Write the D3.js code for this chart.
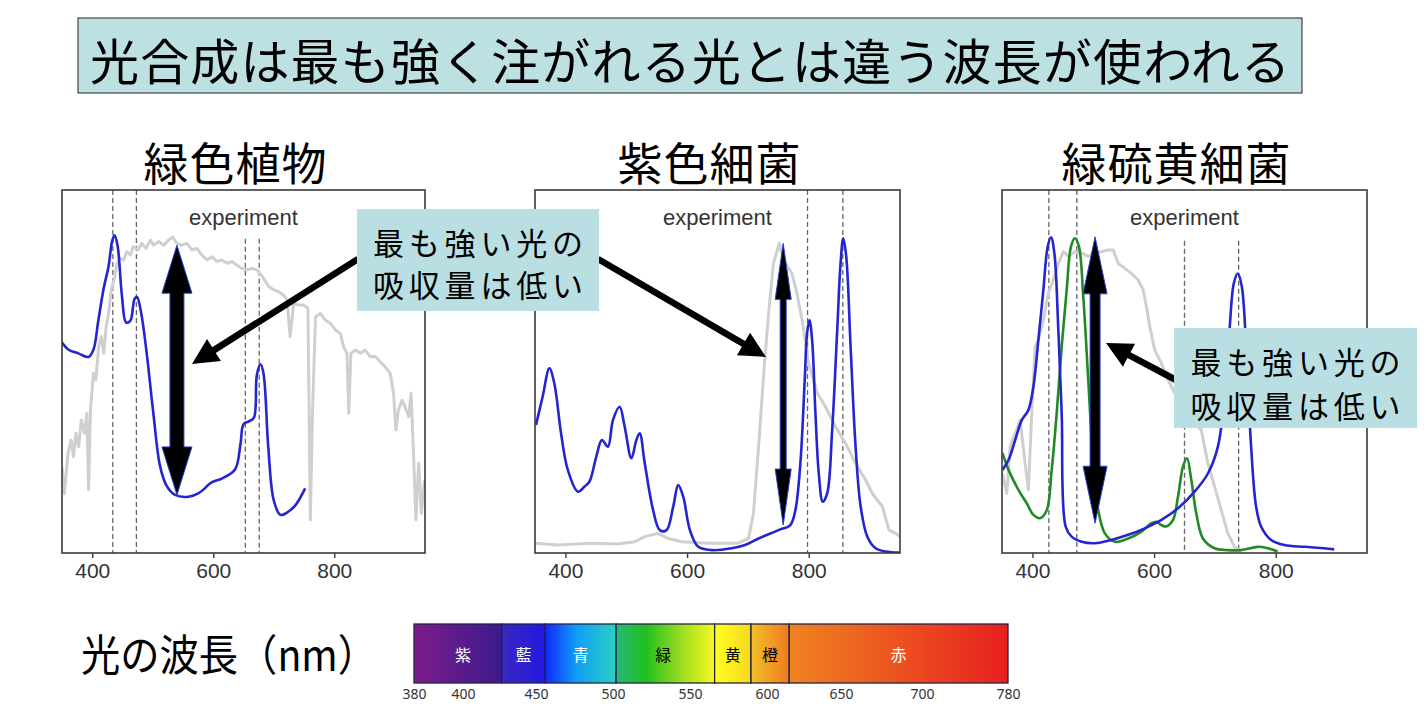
<!DOCTYPE html>
<html><head><meta charset="utf-8">
<script src="https://cdn.jsdelivr.net/npm/d3@7"></script>
<style>body{margin:0;background:#fff;} svg{display:block;}</style>
</head><body>
<script>
// ---------------- DATA ----------------
const titleText = "光合成は最も強く注がれる光とは違う波長が使われる";
const panelTitles = ["緑色植物", "紫色細菌", "緑硫黄細菌"];
const axisTicks = [400, 600, 800];
const panelNote = "experiment";
const calloutLines = ["最も強い光の", "吸収量は低い"];
const wavelengthLabel = "光の波長（nm）";

// Green plant: light spectrum (gray) and absorption (blue) [nm, relative]
const plantLight = [[350,0.238],[354,0.164],[360,0.275],[365,0.311],[369,0.265],[373,0.330],[377.5,0.293],[382,0.366],[387,0.330],[391,0.385],[394,0.174],[397,0.394],[402,0.495],[406,0.477],[410.5,0.568],[415,0.596],[419,0.550],[423,0.624],[427,0.660],[431.5,0.725],[437,0.761],[441,0.798],[446,0.812],[452,0.807],[457,0.830],[463,0.821],[468,0.844],[475.5,0.835],[482,0.853],[489,0.839],[496,0.862],[501,0.848],[510,0.858],[518,0.848],[526,0.862],[533,0.870],[540,0.853],[548,0.848],[556.5,0.853],[565,0.835],[573,0.839],[581,0.821],[590,0.807],[598,0.816],[606,0.803],[614,0.807],[623,0.798],[631,0.803],[639,0.793],[647.5,0.784],[656,0.780],[664,0.784],[672,0.780],[679,0.766],[685,0.752],[691.5,0.734],[700,0.725],[708,0.720],[716,0.711],[722,0.697],[727,0.596],[733,0.688],[741,0.683],[749,0.683],[756.5,0.674],[760.5,0.091],[764,0.385],[769,0.651],[777,0.660],[785,0.642],[793.5,0.633],[802,0.614],[810,0.605],[815.5,0.568],[821,0.550],[824,0.385],[827.5,0.550],[835,0.559],[843,0.550],[851,0.559],[859.5,0.541],[868,0.541],[876,0.527],[884,0.513],[892.5,0.495],[898,0.440],[902,0.339],[906,0.394],[912,0.421],[917,0.403],[923,0.376],[927,0.440],[931,0.275],[935,0.091],[939.5,0.247],[944,0.109],[949,0.201]];
const plantAbsorb = [[350,0.58],[361,0.56],[377,0.55],[394,0.54],[402,0.56],[410,0.64],[419,0.73],[427,0.79],[433,0.86],[437,0.875],[442,0.845],[449,0.71],[456,0.635],[463,0.64],[470,0.70],[474,0.705],[481,0.66],[490,0.55],[501,0.385],[512,0.24],[523,0.185],[537,0.16],[559,0.155],[576,0.165],[598,0.195],[614,0.205],[636,0.23],[645,0.30],[650,0.355],[658,0.362],[667,0.372],[672,0.49],[678,0.52],[683,0.495],[691,0.29],[700,0.145],[711,0.105],[725,0.115],[736,0.132],[752,0.178]];

// Purple bacteria
const purpleLight = [[351.6,0.027],[387,0.022],[442,0.027],[486,0.025],[514,0.031],[530,0.045],[552,0.054],[569,0.040],[591,0.031],[635,0.027],[684,0.027],[701,0.040],[709,0.109],[717.5,0.293],[726,0.495],[734,0.660],[742,0.798],[751.6,0.853],[758.7,0.807],[767,0.784],[772.5,0.770],[780.7,0.715],[789,0.642],[800,0.522],[814,0.440],[827.5,0.403],[844,0.348],[860.5,0.302],[877,0.247],[893.5,0.201],[904.5,0.164],[921,0.128],[932,0.063],[943,0.054],[950,0.045]];
const purpleAbsorb = [[351.6,0.353],[362.6,0.431],[373.6,0.509],[381.8,0.467],[392.8,0.330],[403.9,0.229],[420.4,0.169],[431.4,0.183],[439.6,0.197],[450.6,0.265],[460,0.311],[469.9,0.293],[478.1,0.366],[489.1,0.403],[497.4,0.348],[508.4,0.261],[516.6,0.311],[522.1,0.330],[530.4,0.247],[544.2,0.118],[555.2,0.063],[566.2,0.063],[577.2,0.128],[585.4,0.187],[593.7,0.155],[604.7,0.063],[618.4,0.017],[640.4,0.008],[673.4,0.013],[695.4,0.022],[717.5,0.040],[750.5,0.063],[769.7,0.077],[778,0.118],[786.2,0.247],[793.4,0.477],[797.2,0.605],[801.1,0.642],[805.5,0.587],[811,0.385],[816.5,0.219],[823.1,0.141],[830.3,0.164],[838.5,0.339],[846.8,0.614],[852.3,0.798],[856.7,0.867],[861.6,0.817],[868.8,0.568],[877,0.293],[885.3,0.128],[896.3,0.045],[910,0.013],[926.5,0.004],[948.5,0.001]];

// Green sulfur bacteria
const gsbLight = [[350.8,0.219],[357.9,0.164],[363.4,0.293],[371.6,0.330],[379.8,0.366],[388,0.247],[393.4,0.174],[398.9,0.385],[404.4,0.568],[409.8,0.587],[418,0.642],[426.2,0.716],[434.4,0.752],[442.6,0.798],[450.8,0.830],[459,0.817],[469.9,0.830],[480.9,0.826],[491.8,0.817],[502.7,0.826],[513.7,0.830],[524.6,0.835],[532.8,0.835],[541,0.798],[551.9,0.784],[562.8,0.770],[573.8,0.752],[582,0.725],[587.4,0.679],[592.9,0.624],[601.1,0.559],[612,0.523],[623,0.477],[633.9,0.440],[644.8,0.412],[655.8,0.376],[666.7,0.357],[677.6,0.339],[688.5,0.247],[699.5,0.183],[710.4,0.118],[721.3,0.054],[732.2,0.017],[743.1,0.004]];
const gsbAbsorbBlue = [[350.8,0.229],[360.7,0.256],[371.6,0.311],[382.5,0.366],[393.4,0.394],[401.6,0.458],[409.8,0.587],[418,0.725],[425.1,0.844],[430.6,0.870],[436.1,0.826],[442.6,0.614],[448.1,0.385],[454.6,0.073],[464.5,0.045],[480.9,0.031],[502.7,0.027],[530,0.036],[557.4,0.050],[584.7,0.068],[612,0.091],[639.3,0.123],[666.6,0.169],[688.5,0.219],[704.9,0.293],[715.8,0.431],[724,0.614],[731.1,0.743],[737.7,0.770],[744.2,0.734],[751.3,0.568],[759.5,0.293],[767.7,0.128],[775.9,0.073],[792.3,0.036],[814.2,0.022],[847,0.017],[879.7,0.013],[896.1,0.010]];
const gsbAbsorbGreen = [[350.8,0.275],[360.7,0.229],[377,0.174],[390.7,0.137],[401.6,0.105],[412.6,0.096],[423.5,0.118],[431.7,0.229],[439.9,0.385],[448.1,0.568],[456.3,0.725],[463.4,0.844],[469.9,0.867],[476.5,0.844],[483.6,0.706],[491.8,0.477],[500,0.247],[508.2,0.118],[519.1,0.054],[535.5,0.031],[557.4,0.040],[579.2,0.059],[595.6,0.082],[603.8,0.086],[612,0.077],[620.2,0.073],[631.1,0.091],[639.3,0.155],[647.5,0.238],[654.1,0.261],[661.2,0.201],[669.4,0.109],[680.3,0.040],[699.4,0.013],[721.3,0.008],[743.1,0.008],[770.5,0.017],[786.8,0.013],[803.2,0.004]];

// dashed marker wavelengths [nm, top value]
const plantMarkers = [[434,1],[473,1],[653,0.866],[676,0.866]];
const purpleMarkers = [[798,1],[856,1]];
const gsbMarkers = [[427,1],[473,1],[650,0.86],[739,0.86]];

// double arrows [nm, top value, bottom value]
const plantRange = [540, 0.848, 0.160];
const purpleRange = [758, 0.853, 0.077];
const gsbRange = [503, 0.871, 0.082];

// Visible spectrum bar
const bandNames = ["紫", "藍", "青", "緑", "黄", "橙", "赤"];
const bandEdges = [380, 426.5, 456, 502, 566, 589.6, 615, 780];
const spectrumTicks = [380, 400, 450, 500, 550, 600, 650, 700, 780];

// ---------------- DRAW ----------------
const W = 1428, H = 716;
const svg = d3.select("body").append("svg").attr("width", W).attr("height", H);
const defs = svg.append("defs");
const CJK = "'Noto Sans CJK JP','Noto Sans',sans-serif";
const LAT = "'Liberation Sans',Arial,sans-serif";

// Title
svg.append("rect").attr("x", 78).attr("y", 18).attr("width", 1224).attr("height", 75)
  .attr("fill", "#bde0e3").attr("stroke", "#222").attr("stroke-width", 1);
svg.append("text").attr("x", 690).attr("y", 58).attr("text-anchor", "middle")
  .attr("dominant-baseline", "central").attr("font-family", CJK).attr("font-size", 49)
  .attr("textLength", 1200).attr("lengthAdjust", "spacing")
  .attr("fill", "#000").text(titleText);

const panels = [
  {x0: 62, x1: 425, title: panelTitles[0], light: plantLight, abs: [[plantAbsorb, "#2424d0"]], markers: plantMarkers, range: plantRange, arrow: {hw: 15, sw: 7, hl: 48}},
  {x0: 535, x1: 900, title: panelTitles[1], light: purpleLight, abs: [[purpleAbsorb, "#2424d0"]], markers: purpleMarkers, range: purpleRange, arrow: {hw: 8, sw: 3, hl: 56}},
  {x0: 1002, x1: 1367, title: panelTitles[2], light: gsbLight, abs: [[gsbAbsorbGreen, "#228a22"], [gsbAbsorbBlue, "#2424d0"]], markers: gsbMarkers, range: gsbRange, arrow: {hw: 12, sw: 5, hl: 57}}
];
const panelTop = 190, panelBottom = 553;

panels.forEach((p, i) => {
  const x = d3.scaleLinear().domain([350, 950]).range([p.x0, p.x1]);
  const y = d3.scaleLinear().domain([0, 1]).range([panelBottom, panelTop]);
  const g = svg.append("g");
  const clipId = "clip" + i;
  defs.append("clipPath").attr("id", clipId).append("rect")
    .attr("x", p.x0).attr("y", panelTop).attr("width", p.x1 - p.x0).attr("height", panelBottom - panelTop);

  svg.append("text").attr("x", (p.x0 + p.x1) / 2 - 8).attr("y", 161).attr("text-anchor", "middle")
    .attr("dominant-baseline", "central").attr("font-family", CJK).attr("font-size", 45)
    .attr("letter-spacing", 1).text(p.title);

  g.append("text").attr("x", (p.x0 + p.x1) / 2).attr("y", 225).attr("text-anchor", "middle")
    .attr("font-family", LAT).attr("font-size", 22).attr("fill", "#333").text(panelNote);

  const inner = g.append("g").attr("clip-path", `url(#${clipId})`);
  inner.selectAll("line.mk").data(p.markers).join("line")
    .attr("x1", d => x(d[0])).attr("x2", d => x(d[0]))
    .attr("y1", d => y(d[1])).attr("y2", panelBottom)
    .attr("stroke", "#666").attr("stroke-width", 1.3).attr("stroke-dasharray", "5,3");

  const lineLight = d3.line().x(d => x(d[0])).y(d => y(d[1]));
  inner.append("path").datum(p.light).attr("d", lineLight)
    .attr("fill", "none").attr("stroke", "#cfcfcf").attr("stroke-width", 3).attr("stroke-linejoin", "round");

  const lineAbs = d3.line().x(d => x(d[0])).y(d => y(d[1])).curve(d3.curveCatmullRom.alpha(0.5));
  p.abs.forEach(([data, col]) => {
    inner.append("path").datum(data).attr("d", lineAbs)
      .attr("fill", "none").attr("stroke", col).attr("stroke-width", 2.6).attr("stroke-linejoin", "round");
  });

  // frame
  g.append("rect").attr("x", p.x0).attr("y", panelTop).attr("width", p.x1 - p.x0).attr("height", panelBottom - panelTop)
    .attr("fill", "none").attr("stroke", "#3a3a3a").attr("stroke-width", 1.6);

  const ax = g.append("g").attr("transform", `translate(0,${panelBottom})`)
    .call(d3.axisBottom(x).tickValues(axisTicks).tickSize(5).tickPadding(5).tickFormat(d3.format("d")));
  ax.select(".domain").remove();
  ax.selectAll("line").attr("stroke", "#3a3a3a").attr("stroke-width", 1.4);
  ax.selectAll("text").attr("font-family", LAT).attr("font-size", 21).attr("fill", "#333");

  // double arrow
  const cx = x(p.range[0]), yt = y(p.range[1]), yb = y(p.range[2]);
  const a = p.arrow;
  const pts = [[cx, yt], [cx + a.hw, yt + a.hl], [cx + a.sw, yt + a.hl], [cx + a.sw, yb - a.hl], [cx + a.hw, yb - a.hl],
    [cx, yb], [cx - a.hw, yb - a.hl], [cx - a.sw, yb - a.hl], [cx - a.sw, yt + a.hl], [cx - a.hw, yt + a.hl]];
  g.append("polygon").attr("points", pts.map(q => q.join(",")).join(" "))
    .attr("fill", "#000").attr("stroke", "#2a40d0").attr("stroke-width", 1);
});

// Callouts
function singleArrow(x1, y1, x2, y2) {
  const dx = x2 - x1, dy = y2 - y1, len = Math.hypot(dx, dy);
  const ux = dx / len, uy = dy / len, nx = -uy, ny = ux;
  const hl = 26, hw = 13, sw = 3.3;
  const bx = x2 - ux * hl, by = y2 - uy * hl;
  const pts = [[x1 + nx * sw, y1 + ny * sw], [bx + nx * sw, by + ny * sw], [bx + nx * hw, by + ny * hw], [x2, y2],
    [bx - nx * hw, by - ny * hw], [bx - nx * sw, by - ny * sw], [x1 - nx * sw, y1 - ny * sw]];
  svg.append("polygon").attr("points", pts.map(q => q.join(",")).join(" ")).attr("fill", "#000");
}
singleArrow(358, 259, 192, 364);
singleArrow(598, 259, 766, 357);
singleArrow(1176, 380, 1106, 343);

function callout(x, y, w, h, c1, c2) {
  svg.append("rect").attr("x", x).attr("y", y).attr("width", w).attr("height", h).attr("fill", "#b9dfe2");
  [c1, c2].forEach((cy, k) => {
    svg.append("text").attr("x", x + w / 2).attr("y", cy).attr("text-anchor", "middle")
      .attr("dominant-baseline", "central").attr("font-family", CJK).attr("font-size", 31)
      .attr("textLength", 210).attr("lengthAdjust", "spacing").text(calloutLines[k]);
  });
}
callout(357, 209, 242, 102, 241, 283);
callout(1174, 328, 243, 100, 360, 404);

// Wavelength label
svg.append("text").attr("x", 81).attr("y", 652).attr("dominant-baseline", "central")
  .attr("font-family", CJK).attr("font-size", 43).attr("textLength", 296).attr("lengthAdjust", "spacingAndGlyphs")
  .text(wavelengthLabel);

// Spectrum bar
const sx = d3.scaleLinear().domain(spectrumTicks).range([414, 463, 536, 613, 690, 767, 841, 922, 1008]);
const barTop = 624, barBot = 683;
const bandStops = [
  [[0, "#7d1c8a"], [1, "#3c1a8c"]],
  [[0, "#3a28c0"], [1, "#2218e2"]],
  [[0, "#1028ff"], [0.45, "#10a0f6"], [1, "#2ad0c0"]],
  [[0, "#28b878"], [0.3, "#20c020"], [0.7, "#a8e020"], [1, "#f8f820"]],
  [[0, "#ffff20"], [1, "#f8d820"]],
  [[0, "#f4c028"], [1, "#ee7a20"]],
  [[0, "#f08420"], [1, "#e82020"]]
];
const bandText = ["#fff", "#fff", "#fff", "#000", "#000", "#000", "#fff"];
const bands = bandNames.map((n, i) => ({name: n, a: bandEdges[i], b: bandEdges[i + 1], i}));
bands.forEach(d => {
  const gr = defs.append("linearGradient").attr("id", "band" + d.i).attr("x1", 0).attr("x2", 1).attr("y1", 0).attr("y2", 0);
  bandStops[d.i].forEach(s => gr.append("stop").attr("offset", s[0]).attr("stop-color", s[1]));
});
svg.selectAll("rect.band").data(bands).join("rect").attr("class", "band")
  .attr("x", d => sx(d.a)).attr("y", barTop).attr("width", d => sx(d.b) - sx(d.a)).attr("height", barBot - barTop)
  .attr("fill", d => `url(#band${d.i})`).attr("stroke", "#222244").attr("stroke-width", 1.3);
svg.selectAll("text.band").data(bands).join("text").attr("class", "band")
  .attr("x", d => d.i === 0 ? sx(400) : (sx(d.a) + sx(d.b)) / 2 + (d.i === 3 ? -2 : 0))
  .attr("y", 654).attr("text-anchor", "middle").attr("dominant-baseline", "central")
  .attr("font-family", CJK).attr("font-size", 16).attr("fill", d => bandText[d.i]).text(d => d.name);
const sAxis = svg.append("g").attr("transform", `translate(0,${barBot})`)
  .call(d3.axisBottom(sx).tickValues(spectrumTicks).tickSize(0).tickPadding(6).tickFormat(d3.format("d")));
sAxis.select(".domain").remove();
sAxis.selectAll("text").attr("font-family", "'Noto Sans',sans-serif").attr("font-size", 14).attr("fill", "#333");
</script>
</body></html>
